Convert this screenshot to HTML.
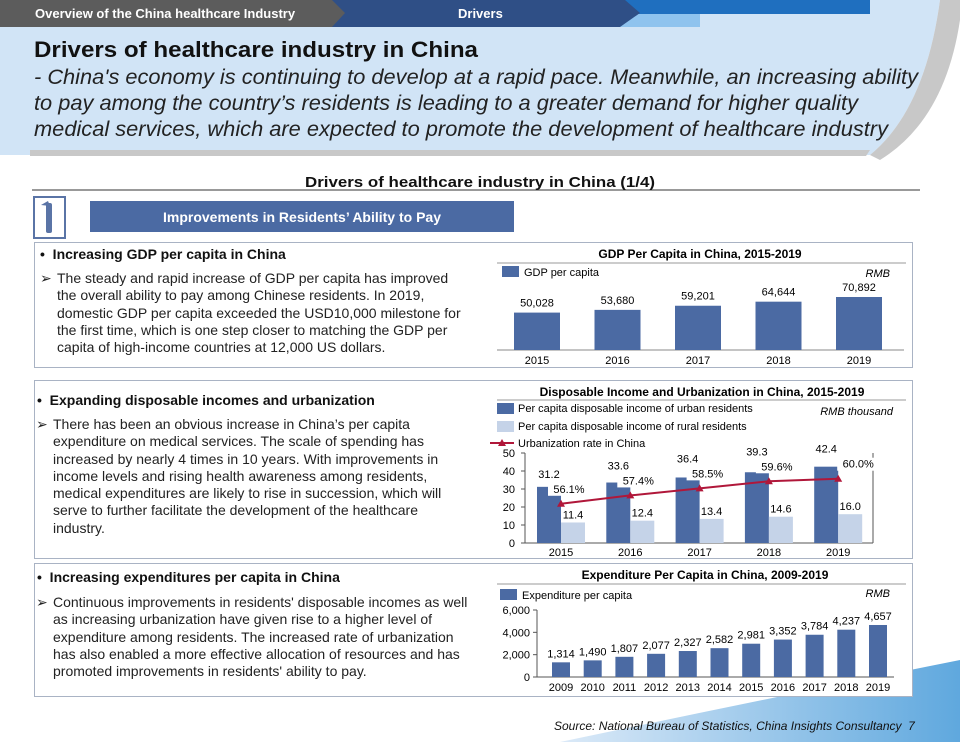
<!DOCTYPE html>
<html><head><meta charset="utf-8"><style>
body{margin:0;width:960px;height:742px;overflow:hidden;background:#fff;font-family:"Liberation Sans",sans-serif;position:relative}
.abs{position:absolute}
.box{position:absolute;border:1px solid #a9b3c4;background:#fff}
.head{position:absolute;font-weight:bold;font-size:14px;color:#111}
.body{position:absolute;font-size:14px;color:#222;line-height:17.3px;white-space:nowrap}
.arrow{position:absolute;left:-17px}
</style></head><body>
<svg class="abs" style="left:0;top:0" width="960" height="742" font-family="Liberation Sans, sans-serif">
<defs><linearGradient id="sw" x1="0" x2="1"><stop offset="0" stop-color="#dceaf8"/><stop offset="1" stop-color="#5fa8de"/></linearGradient></defs>
<path d="M0 0 H940 Q925 110 870 155 H0 Z" fill="#d1e4f6"/>
<path d="M870 155 Q925 110 940 0 H960 V20 Q945 120 880 160 Z" fill="#c8c8c8"/>
<path d="M30 150 H870 L866 156 H30 Z" fill="#c8c8c8"/>
<path d="M610 0 H870 V14 H620 Z" fill="#1f6fbf"/>
<path d="M615 14 H700 V27 H605 Z" fill="#8fc3ee"/>
<path d="M330 0 H625 L640 13 L620 27 H330 Z" fill="#2f4f86"/>
<path d="M0 0 H332 L345 13 L332 27 H0 Z" fill="#5c5c5c"/>
<path d="M560 742 Q760 700 960 660 V742 Z" fill="url(#sw)"/>
<line x1="32" y1="190" x2="920" y2="190" stroke="#999" stroke-width="2"/>
<rect x="34" y="197" width="31" height="41" fill="#fff" stroke="#5a74a6" stroke-width="2"/>
<rect x="90" y="201" width="424" height="31" fill="#4b6aa3"/>
<text x="34" y="57" font-size="22" font-weight="bold" fill="#111" textLength="444" lengthAdjust="spacingAndGlyphs">Drivers of healthcare industry in China</text>
<g font-size="21" font-style="italic" fill="#222">
<text x="34" y="84" textLength="884" lengthAdjust="spacingAndGlyphs">- China's economy is continuing to develop at a rapid pace. Meanwhile, an increasing ability</text>
<text x="34" y="110" textLength="824" lengthAdjust="spacingAndGlyphs">to pay among the country’s residents is leading to a greater demand for higher quality</text>
<text x="34" y="136" textLength="854" lengthAdjust="spacingAndGlyphs">medical services, which are expected to promote the development of healthcare industry</text>
</g>
<text x="305" y="187" font-size="15" font-weight="bold" fill="#111" textLength="350" lengthAdjust="spacingAndGlyphs">Drivers of healthcare industry in China (1/4)</text>
<rect x="46" y="203" width="6" height="30" rx="2" fill="#5a74a6"/>
<path d="M41 205 L48 201 L50 206 Z" fill="#5a74a6"/>
</svg>
<div class="abs" style="left:35px;top:6px;font-size:13px;font-weight:bold;color:#fff">Overview of the China healthcare Industry</div>
<div class="abs" style="left:458px;top:6px;font-size:13px;font-weight:bold;color:#fff">Drivers</div>
<div class="abs" style="left:90px;top:209px;width:424px;text-align:center;font-size:14px;font-weight:bold;color:#fff">Improvements in Residents’ Ability to Pay</div>

<div class="box" style="left:34px;top:242px;width:877px;height:124px"></div>
<div class="box" style="left:34px;top:380px;width:877px;height:177px"></div>
<div class="box" style="left:34px;top:563px;width:877px;height:132px"></div>

<div class="head" style="left:40px;top:246px">•&nbsp; Increasing GDP per capita in China</div>
<div class="body" style="left:57px;top:270px"><span class="arrow">➢</span>The steady and rapid increase of GDP per capita has improved<br>the overall ability to pay among Chinese residents. In 2019,<br>domestic GDP per capita exceeded the USD10,000 milestone for<br>the first time, which is one step closer to matching the GDP per<br>capita of high-income countries at 12,000 US dollars.</div>
<div class="head" style="left:37px;top:392px">•&nbsp; Expanding disposable incomes and urbanization</div>
<div class="body" style="left:53px;top:416px"><span class="arrow">➢</span>There has been an obvious increase in China’s per capita<br>expenditure on medical services. The scale of spending has<br>increased by nearly 4 times in 10 years. With improvements in<br>income levels and rising health awareness among residents,<br>medical expenditures are likely to rise in succession, which will<br>serve to further facilitate the development of the healthcare<br>industry.</div>
<div class="head" style="left:37px;top:569px">•&nbsp; Increasing expenditures per capita in China</div>
<div class="body" style="left:53px;top:594px"><span class="arrow">➢</span>Continuous improvements in residents' disposable incomes as well<br>as increasing urbanization have given rise to a higher level of<br>expenditure among residents. The increased rate of urbanization<br>has also enabled a more effective allocation of resources and has<br>promoted improvements in residents' ability to pay.</div>
<div class="abs" style="left:554px;top:719px;font-size:12px;font-style:italic;color:#111">Source: National Bureau of Statistics, China Insights Consultancy&nbsp; 7</div>

<svg id="charts" class="abs" style="left:0;top:0" width="960" height="742" font-family="Liberation Sans, sans-serif"></svg>
<script>
const gdpYears=['2015','2016','2017','2018','2019'];
const gdpValues=[50028,53680,59201,64644,70892];
const gdpLabels=['50,028','53,680','59,201','64,644','70,892'];
const incYears=['2015','2016','2017','2018','2019'];
const urbanIncome=[31.2,33.6,36.4,39.3,42.4];
const ruralIncome=[11.4,12.4,13.4,14.6,16.0];
const urbanRate=[56.1,57.4,58.5,59.6,60.0];
const incTicks=[0,10,20,30,40,50];
const expYears=['2009','2010','2011','2012','2013','2014','2015','2016','2017','2018','2019'];
const expValues=[1314,1490,1807,2077,2327,2582,2981,3352,3784,4237,4657];
const expTicks=[0,2000,4000,6000];

const svg=document.getElementById('charts');
const NS='http://www.w3.org/2000/svg';
function mk(tag,attrs,txt){const e=document.createElementNS(NS,tag);for(const k in attrs)e.setAttribute(k,attrs[k]);if(txt!==undefined)e.textContent=txt;svg.appendChild(e);return e;}
const dark='#4b6aa3',light='#c5d3e8';

// GDP chart
mk('text',{x:700,y:258,'text-anchor':'middle','font-size':12,'font-weight':'bold'},'GDP Per Capita in China, 2015-2019');
mk('line',{x1:497,y1:263,x2:906,y2:263,stroke:'#999'});
mk('rect',{x:502,y:266,width:17,height:11,fill:dark});
mk('text',{x:524,y:276,'font-size':11},'GDP per capita');
mk('text',{x:890,y:277,'font-size':11,'font-style':'italic','text-anchor':'end'},'RMB');
const gx=i=>537+i*80.5, gy=v=>350-v*53/70892;
mk('line',{x1:497,y1:350,x2:904,y2:350,stroke:'#888'});
gdpValues.forEach((v,i)=>{
 const r=mk('rect',{x:gx(i)-23,y:gy(v),width:46,height:350-gy(v),fill:dark});
 
 
 mk('text',{x:gx(i),y:gy(v)-6,'font-size':11,'text-anchor':'middle'},gdpLabels[i]);
 mk('text',{x:gx(i),y:364,'font-size':11,'text-anchor':'middle'},gdpYears[i]);
});

// Income chart
mk('text',{x:702,y:396,'text-anchor':'middle','font-size':12,'font-weight':'bold'},'Disposable Income and Urbanization in China, 2015-2019');
mk('line',{x1:497,y1:400,x2:906,y2:400,stroke:'#999'});
mk('rect',{x:497,y:403,width:17,height:11,fill:dark});
mk('text',{x:518,y:412,'font-size':11},'Per capita disposable income of urban residents');
mk('rect',{x:497,y:421,width:17,height:11,fill:light});
mk('text',{x:518,y:430,'font-size':11},'Per capita disposable income of rural residents');
mk('line',{x1:490,y1:443,x2:514,y2:443,stroke:'#b0173a','stroke-width':2});
mk('path',{d:'M502 439 L506 446 L498 446 Z',fill:'#b0173a'});
mk('text',{x:518,y:447,'font-size':11},'Urbanization rate in China');
mk('text',{x:893,y:415,'font-size':11,'font-style':'italic','text-anchor':'end'},'RMB thousand');
const ix=i=>561+i*69.3, iy=v=>543-v*1.8, ry=p=>iy((p-50)*50/14);
mk('line',{x1:525,y1:453,x2:525,y2:543,stroke:'#555'});
mk('line',{x1:525,y1:543,x2:873,y2:543,stroke:'#555'});
mk('line',{x1:873,y1:453,x2:873,y2:543,stroke:'#555'});
incTicks.forEach(t=>{mk('text',{x:515,y:iy(t)+4,'font-size':11,'text-anchor':'end'},String(t));mk('line',{x1:521,y1:iy(t),x2:525,y2:iy(t),stroke:'#555'});});
const pts=urbanRate.map((p,i)=>[ix(i),ry(p)]);
incYears.forEach((yr,i)=>{
 const a=mk('rect',{x:ix(i)-24,y:iy(urbanIncome[i]),width:24,height:543-iy(urbanIncome[i]),fill:dark});
 
 
 const b=mk('rect',{x:ix(i),y:iy(ruralIncome[i]),width:24,height:543-iy(ruralIncome[i]),fill:light});
 
 
 mk('text',{x:ix(i)+12,y:iy(ruralIncome[i])-4,'font-size':11,'text-anchor':'middle'},ruralIncome[i].toFixed(1));
 mk('text',{x:ix(i),y:556,'font-size':11,'text-anchor':'middle'},yr);
});
const pl=mk('polyline',{points:pts.map(p=>p.join(',')).join(' '),fill:'none',stroke:'#b0173a','stroke-width':2});

urbanRate.forEach((p,i)=>{
 const [x,y]=pts[i];
 const m=mk('path',{d:`M${x} ${y-4} L${x+4} ${y+3} L${x-4} ${y+3} Z`,fill:'#b0173a'});
 
 const lx=x+(i==4?20:8), lyy=y-11;
 mk('rect',{x:lx-21,y:lyy-10,width:42,height:13,fill:'#fff'});
 mk('text',{x:lx,y:lyy,'font-size':11,'text-anchor':'middle'},p.toFixed(1)+'%');
 const vy=Math.min(iy(urbanIncome[i])-8,lyy-15);
 mk('text',{x:ix(i)-12,y:vy,'font-size':11,'text-anchor':'middle'},urbanIncome[i].toFixed(1));
});

// Expenditure chart
mk('text',{x:705,y:579,'text-anchor':'middle','font-size':12,'font-weight':'bold'},'Expenditure Per Capita in China, 2009-2019');
mk('line',{x1:497,y1:584,x2:906,y2:584,stroke:'#999'});
mk('rect',{x:500,y:589,width:17,height:11,fill:dark});
mk('text',{x:522,y:599,'font-size':11},'Expenditure per capita');
mk('text',{x:890,y:597,'font-size':11,'font-style':'italic','text-anchor':'end'},'RMB');
const ex=i=>561+i*31.7, ey=v=>677-v*67/6000;
mk('line',{x1:537,y1:610,x2:537,y2:677,stroke:'#555'});
mk('line',{x1:537,y1:677,x2:894,y2:677,stroke:'#555'});
expTicks.forEach(t=>{mk('text',{x:530,y:ey(t)+4,'font-size':11,'text-anchor':'end'},t.toLocaleString('en-US'));mk('line',{x1:533,y1:ey(t),x2:537,y2:ey(t),stroke:'#555'});});
expValues.forEach((v,i)=>{
 const r=mk('rect',{x:ex(i)-9,y:ey(v),width:18,height:677-ey(v),fill:dark});
 
 
 mk('text',{x:ex(i),y:ey(v)-5,'font-size':11,'text-anchor':'middle'},v.toLocaleString('en-US'));
 mk('text',{x:ex(i),y:691,'font-size':11,'text-anchor':'middle'},expYears[i]);
});
</script>
</body></html>
